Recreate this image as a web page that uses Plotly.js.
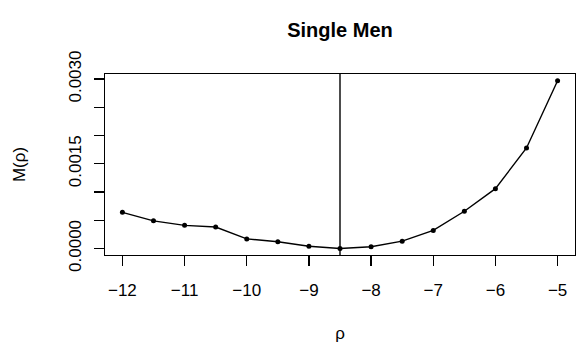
<!DOCTYPE html>
<html>
<head>
<meta charset="utf-8">
<script src="https://cdn.plot.ly/plotly-3.0.1.min.js"></script>
<style>html,body{margin:0;padding:0;background:#fff;}</style>
</head>
<body>
<div id="chart" style="width:578px;height:345px;"></div>
<script>
const rho = [-12, -11.5, -11, -10.5, -10, -9.5, -9, -8.5, -8, -7.5, -7, -6.5, -6, -5.5, -5];
const mValues = [0.00064, 0.00049, 0.00041, 0.00038, 0.00017, 0.00012, 0.00004, 0.00000, 0.00003, 0.00013, 0.00032, 0.00066, 0.00106, 0.00178, 0.00297];
const optimumRho = -8.5;
const xTickVals = [-12, -11, -10, -9, -8, -7, -6, -5];
const yTickVals = [0, 0.0005, 0.0010, 0.0015, 0.0020, 0.0025, 0.0030];
const yTickText = ['0.0000', '', '', '0.0015', '', '', '0.0030'];

const font = 'Liberation Sans, Arial, Helvetica, sans-serif';

const trace = {
  x: rho, y: mValues, type: 'scatter', mode: 'lines+markers',
  line: {color: '#000', width: 1.4},
  marker: {color: '#000', size: 5},
  hoverinfo: 'none'
};

const layout = {
  width: 578, height: 345,
  margin: {l: 105, r: 3, t: 74, b: 90},
  paper_bgcolor: '#fff', plot_bgcolor: '#fff',
  showlegend: false,
  font: {family: font, color: '#000', size: 17},
  title: {text: '<b>Single Men</b>', font: {family: font, size: 20, color: '#000'},
          x: 0.5, xref: 'paper', y: 0.912, yref: 'container', yanchor: 'middle'},
  xaxis: {
    range: [-12.28, -4.72], tickvals: xTickVals, ticks: 'outside', ticklen: 10, tickwidth: 1.2,
    tickcolor: '#000', showline: true, linecolor: '#000', linewidth: 1.2, mirror: true,
    showgrid: false, zeroline: false, tickfont: {size: 17}, ticklabelstandoff: 9,
    title: {text: 'ρ', font: {size: 17}, standoff: 28}
  },
  yaxis: {
    range: [-0.000115, 0.00309], tickvals: yTickVals, ticktext: yTickText, tickangle: -90,
    ticks: 'outside', ticklen: 10, tickwidth: 1.2, tickcolor: '#000',
    showline: true, linecolor: '#000', linewidth: 1.2, mirror: true,
    showgrid: false, zeroline: false, tickfont: {size: 17}, ticklabelstandoff: 6,
    title: {text: 'M(ρ)', font: {size: 17}, standoff: 36}
  },
  shapes: [{type: 'line', xref: 'x', yref: 'paper', x0: optimumRho, x1: optimumRho, y0: 0, y1: 1,
            line: {color: '#000', width: 1.4}}]
};

Plotly.newPlot('chart', [trace], layout, {displayModeBar: false, staticPlot: true});
</script>
</body>
</html>
